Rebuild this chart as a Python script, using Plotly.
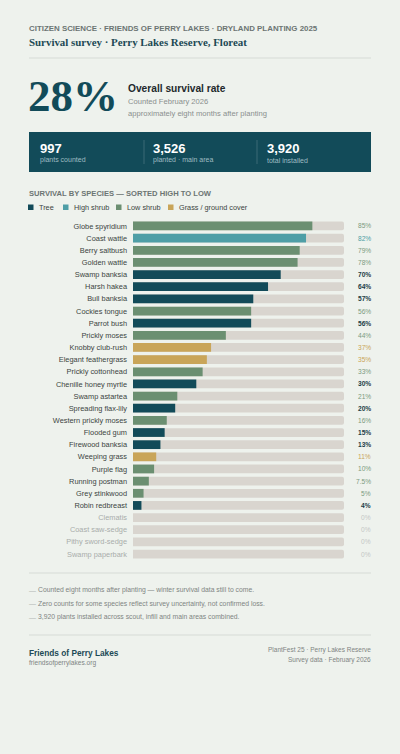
import plotly.graph_objects as go

W, H = 400, 754

# ---- data ----
species = [
    "Globe spyridium", "Coast wattle", "Berry saltbush", "Golden wattle",
    "Swamp banksia", "Harsh hakea", "Bull banksia", "Cockies tongue",
    "Parrot bush", "Prickly moses", "Knobby club-rush", "Elegant feathergrass",
    "Prickly cottonhead", "Chenille honey myrtle", "Swamp astartea",
    "Spreading flax-lily", "Western prickly moses", "Flooded gum",
    "Firewood banksia", "Weeping grass", "Purple flag", "Running postman",
    "Grey stinkwood", "Robin redbreast", "Clematis", "Coast saw-sedge",
    "Pithy sword-sedge", "Swamp paperbark",
]
survival = [85, 82, 79, 78, 70, 64, 57, 56, 56, 44, 37, 35, 33, 30, 21, 20,
            16, 15, 13, 11, 10, 7.5, 5, 4, 0, 0, 0, 0]
plant_type = [
    "Low shrub", "High shrub", "Low shrub", "Low shrub", "Tree", "Tree", "Tree",
    "Low shrub", "Tree", "Low shrub", "Grass / ground cover",
    "Grass / ground cover", "Low shrub", "Tree", "Low shrub", "Tree",
    "Low shrub", "Tree", "Tree", "Grass / ground cover", "Low shrub",
    "Low shrub", "Low shrub", "Tree", None, None, None, None,
]
type_names = ["Tree", "High shrub", "Low shrub", "Grass / ground cover"]
type_colors = {"Tree": "#124b59", "High shrub": "#4e9ea6",
               "Low shrub": "#6b8f71", "Grass / ground cover": "#c9a559"}
label_colors = {"Tree": "#1c3d47", "High shrub": "#4e9ea6",
                "Low shrub": "#7b9a80", "Grass / ground cover": "#c9a559"}

stat_values = ["997", "3,526", "3,920"]
stat_labels = ["plants counted", "planted · main area", "total installed"]
notes = [
    "Counted eight months after planting — winter survival data still to come.",
    "Zero counts for some species reflect survey uncertainty, not confirmed loss.",
    "3,920 plants installed across scout, infill and main areas combined.",
]

BG = "#eef2ed"
SANS = "Liberation Sans, Arial, sans-serif"
SERIF = "Liberation Serif, Georgia, serif"


def py(y):
    return 1 - y / H


def px(x):
    return x / W


fig = go.Figure()

# track behind every bar
fig.add_trace(go.Bar(
    x=[100] * len(species), y=species, orientation="h",
    marker=dict(color="#d9d5cf", line=dict(width=0)),
    width=0.72, showlegend=False, hoverinfo="skip",
))
for t in type_names:
    xs = [v if pt == t else None for v, pt in zip(survival, plant_type)]
    fig.add_trace(go.Bar(
        x=xs, y=species, orientation="h", name=t,
        marker=dict(color=type_colors[t], line=dict(width=0)),
        width=0.72, showlegend=False,
    ))

ticktext = []
for s, v in zip(species, survival):
    if v == 0:
        ticktext.append(f"<span style='color:#a9adab'>{s}</span>")
    else:
        ticktext.append(s)

annotations = []


def txt(x, y, s, size, color, anchor="left", family=SANS, yanchor="middle"):
    annotations.append(dict(
        x=px(x), y=py(y), xref="paper", yref="paper", text=s, showarrow=False,
        xanchor=anchor, yanchor=yanchor, align=anchor,
        font=dict(size=size, color=color, family=family),
    ))


# percent labels
for s, v, pt in zip(species, survival, plant_type):
    lab = f"{v:g}%"
    if pt is None:
        col, lab_txt = "#c4c7c5", lab
    elif pt == "Tree":
        col, lab_txt = label_colors[pt], f"<b>{lab}</b>"
    else:
        col, lab_txt = label_colors[pt], lab
    annotations.append(dict(
        x=px(371), y=s, xref="paper", yref="y", text=lab_txt, showarrow=False,
        xanchor="right", yanchor="middle", xshift=2,
        font=dict(size=6.6, color=col, family=SANS),
    ))

# header
txt(27, 29, "<b>CITIZEN SCIENCE · FRIENDS OF PERRY LAKES · DRYLAND PLANTING 2025</b>",
    7.9, "#6c7573")
txt(27, 42, "<b>Survival survey · Perry Lakes Reserve, Floreat</b>", 10.9, "#1d4a55",
    family=SERIF)
txt(26, 96, "<b>28%</b>", 45, "#124b59", family=SERIF)
txt(126, 89, "<b>Overall survival rate</b>", 10.2, "#22292c")
txt(126, 101, "Counted February 2026", 7.6, "#8a8f8d")
txt(126, 113, "approximately eight months after planting", 7.6, "#8a8f8d")

# stat card
stat_x = [38, 151, 265]
for x, v, l in zip(stat_x, stat_values, stat_labels):
    txt(x, 148, f"<b>{v}</b>", 13, "#ffffff")
    txt(x, 160, l, 7, "#9fbcc2")

txt(27, 193, "<b>SURVIVAL BY SPECIES — SORTED HIGH TO LOW</b>", 7.6, "#6c7573")

# legend
leg_x = [28, 63, 116, 168]
shapes = []
for x, t in zip(leg_x, type_names):
    shapes.append(dict(type="rect", xref="paper", yref="paper",
                       x0=px(x), x1=px(x + 5.5), y0=py(210), y1=py(204.5),
                       fillcolor=type_colors[t], line=dict(width=0)))
    txt(x + 9, 207.5, t, 7.3, "#3b4441")

# notes
for i, n in enumerate(notes):
    y = 590 + i * 13.5
    txt(27, y, "—", 7, "#b0b5b3")
    txt(36, y, n, 6.8, "#7f8583")

# footer
txt(27, 653, "<b>Friends of Perry Lakes</b>", 8.3, "#1d4a55")
txt(27, 662.5, "friendsofperrylakes.org", 6.6, "#7f8583")
txt(373, 650, "PlantFest 25 · Perry Lakes Reserve", 6.5, "#7f8583", anchor="right")
txt(373, 660, "Survey data · February 2026", 6.5, "#7f8583", anchor="right")

# dividers and card
for y in (58, 573, 635):
    shapes.append(dict(type="line", xref="paper", yref="paper",
                       x0=px(29), x1=px(371), y0=py(y), y1=py(y),
                       line=dict(color="#d6dbd6", width=1)))
shapes.append(dict(type="rect", xref="paper", yref="paper", layer="below",
                   x0=px(29), x1=px(371), y0=py(172), y1=py(132),
                   fillcolor="#124b59", line=dict(width=0)))
for x in (144, 257):
    shapes.append(dict(type="line", xref="paper", yref="paper",
                       x0=px(x), x1=px(x), y0=py(164), y1=py(140),
                       line=dict(color="#3a6a76", width=1)))

fig.update_layout(
    width=W, height=H,
    margin=dict(l=0, r=0, t=0, b=0),
    paper_bgcolor=BG, plot_bgcolor=BG,
    barmode="overlay", barcornerradius=2,
    showlegend=False,
    xaxis=dict(domain=[px(133), px(344)], range=[0, 100], visible=False,
               fixedrange=True),
    yaxis=dict(domain=[py(560.1), py(219.9)], autorange="reversed",
               tickvals=species, ticktext=ticktext, showgrid=False,
               zeroline=False, showline=False, ticks="",
               ticklabelstandoff=5,
               tickfont=dict(size=7.4, color="#3b4441", family=SANS),
               fixedrange=True),
    annotations=annotations,
    shapes=shapes,
    font=dict(family=SANS),
)

fig.write_html(
    "out.html",
    config={"displayModeBar": False},
    post_script="document.body.style.margin='0';"
                "document.body.style.background='" + BG + "';",
)
